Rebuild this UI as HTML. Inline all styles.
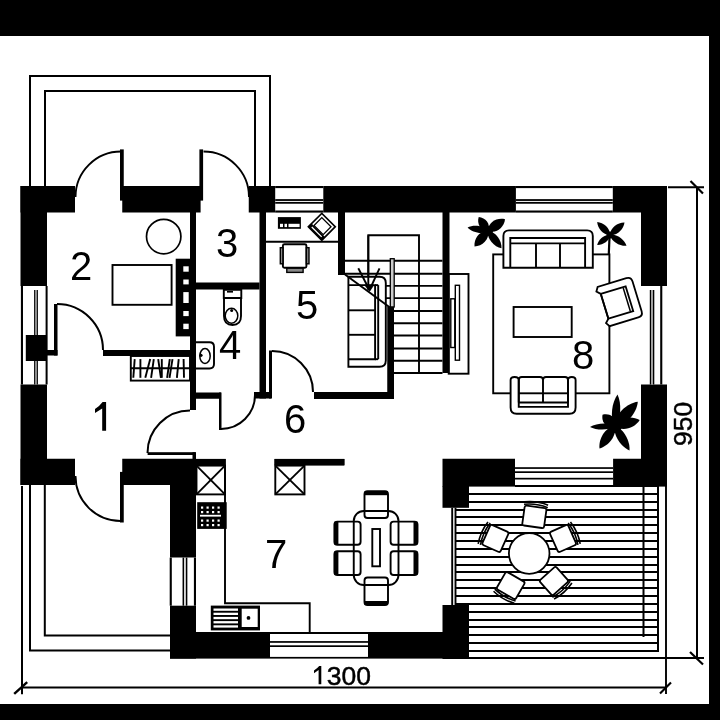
<!DOCTYPE html>
<html><head><meta charset="utf-8"><style>
html,body{margin:0;padding:0;background:#fff;}
svg{display:block;will-change:transform;}
text{font-family:"Liberation Sans",sans-serif;fill:#000;}
</style></head><body>
<svg width="720" height="720" viewBox="0 0 720 720">
<rect x="0" y="0" width="720" height="720" fill="#fff"/>
<rect x="0" y="0" width="720" height="36" fill="#000"/>
<rect x="709" y="0" width="11" height="720" fill="#000"/>
<rect x="0" y="704" width="720" height="16" fill="#000"/>
<path d="M30,186 V76 H270 V186" fill="none" stroke="#000" stroke-width="2"/>
<path d="M45,186 V91 H255 V186" fill="none" stroke="#000" stroke-width="2"/>
<path d="M30,485 V650.5 H170" fill="none" stroke="#000" stroke-width="2"/>
<path d="M44.8,485 V635.5 H170" fill="none" stroke="#000" stroke-width="2"/>
<line x1="22" y1="486" x2="22" y2="694.3" stroke="#000" stroke-width="2"/>
<line x1="22" y1="687.5" x2="666" y2="687.5" stroke="#000" stroke-width="2"/>
<line x1="666" y1="486" x2="666" y2="694" stroke="#000" stroke-width="1.9"/>
<line x1="14.2" y1="693.8" x2="27.2" y2="682.1" stroke="#000" stroke-width="2.4"/>
<line x1="660" y1="693.5" x2="671" y2="682.5" stroke="#000" stroke-width="2.2"/>
<line x1="668" y1="187.2" x2="704" y2="187.2" stroke="#000" stroke-width="1.9"/>
<line x1="469" y1="658" x2="704" y2="658" stroke="#000" stroke-width="1.9"/>
<line x1="697" y1="187" x2="697" y2="658" stroke="#000" stroke-width="2"/>
<line x1="690.5" y1="181" x2="703" y2="193.5" stroke="#000" stroke-width="2.2"/>
<line x1="690" y1="652" x2="703" y2="664.5" stroke="#000" stroke-width="2.2"/>
<rect x="20.5" y="186" width="26.5" height="100" fill="#000"/>
<rect x="20.5" y="384.5" width="26.5" height="100.5" fill="#000"/>
<rect x="20.9" y="286" width="2.1" height="98.5" fill="#000"/>
<rect x="45.6" y="286" width="2.0" height="98.5" fill="#000"/>
<rect x="34.1" y="290" width="1.4" height="94.5" fill="#000"/>
<rect x="36.5" y="290" width="1.4" height="94.5" fill="#000"/>
<rect x="35.5" y="290" width="1.0" height="94.5" fill="#999"/>
<rect x="25.8" y="335" width="21.2" height="26" fill="#000"/>
<rect x="20.5" y="186" width="54.5" height="26.5" fill="#000"/>
<rect x="122.25" y="186" width="78.35" height="26.5" fill="#000"/>
<rect x="248.75" y="186" width="26.45" height="26.5" fill="#000"/>
<rect x="323.3" y="186" width="192.6" height="26.5" fill="#000"/>
<rect x="612.8" y="186" width="54.2" height="26.5" fill="#000"/>
<rect x="641" y="186" width="26" height="100" fill="#000"/>
<rect x="641" y="384.5" width="26" height="101.5" fill="#000"/>
<rect x="649.8" y="290" width="1.4" height="94.5" fill="#000"/>
<rect x="652.9" y="290" width="1.4" height="94.5" fill="#000"/>
<rect x="651.2" y="290" width="1.7" height="94.5" fill="#999"/>
<rect x="660.2" y="286" width="2.1" height="98.5" fill="#000"/>
<rect x="442.5" y="458.75" width="72.5" height="27.85" fill="#000"/>
<rect x="442.5" y="486" width="26.5" height="21.8" fill="#000"/>
<rect x="613.1" y="458.75" width="53.9" height="27.85" fill="#000"/>
<rect x="442.5" y="605" width="26.5" height="54" fill="#000"/>
<rect x="368" y="632" width="101" height="26.6" fill="#000"/>
<rect x="170" y="632" width="100" height="26.6" fill="#000"/>
<rect x="170" y="605.7" width="26" height="52.9" fill="#000"/>
<rect x="170" y="459" width="26" height="98.5" fill="#000"/>
<rect x="122.25" y="458.75" width="73.75" height="26.25" fill="#000"/>
<rect x="20.5" y="458.75" width="54.5" height="26.25" fill="#000"/>
<rect x="275.2" y="186" width="48.1" height="2.1" fill="#000"/>
<rect x="275.2" y="210.5" width="48.1" height="2.1" fill="#000"/>
<rect x="275.2" y="199.128" width="48.1" height="1.8" fill="#000"/>
<rect x="275.2" y="201.928" width="48.1" height="1.8" fill="#000"/>
<rect x="515.9" y="186" width="96.9" height="2.1" fill="#000"/>
<rect x="515.9" y="210.5" width="96.9" height="2.1" fill="#000"/>
<rect x="515.9" y="199.128" width="96.9" height="1.8" fill="#000"/>
<rect x="515.9" y="201.928" width="96.9" height="1.8" fill="#000"/>
<rect x="515" y="467.2" width="98.1" height="1.7" fill="#000"/>
<rect x="515" y="471.3" width="98.1" height="1.7" fill="#000"/>
<rect x="515" y="477.8" width="98.1" height="1.7" fill="#000"/>
<rect x="270" y="632" width="98" height="2" fill="#000"/>
<rect x="270" y="641.1" width="98" height="1.7" fill="#000"/>
<rect x="270" y="645.3" width="98" height="1.7" fill="#000"/>
<rect x="270" y="656.9" width="98" height="1.7" fill="#000"/>
<rect x="169.7" y="557.6" width="2.1" height="48.1" fill="#000"/>
<rect x="193.9" y="557.6" width="2.1" height="48.1" fill="#000"/>
<rect x="182.554" y="557.6" width="1.6" height="48.1" fill="#000"/>
<rect x="185.75400000000002" y="557.6" width="1.6" height="48.1" fill="#000"/>
<rect x="190" y="212" width="6" height="198" fill="#000"/>
<rect x="103" y="350" width="87" height="6" fill="#000"/>
<rect x="47" y="350" width="10.5" height="5.5" fill="#000"/>
<rect x="54" y="304" width="3.5" height="51.5" fill="#000"/>
<rect x="196" y="282.5" width="63.5" height="7.0" fill="#000"/>
<rect x="259.5" y="212" width="6.5" height="186.5" fill="#000"/>
<rect x="196" y="392.5" width="25" height="6.25" fill="#000"/>
<rect x="254" y="392" width="17" height="6.5" fill="#000"/>
<rect x="269" y="350.5" width="3" height="48.0" fill="#000"/>
<rect x="314" y="392" width="80" height="7" fill="#000"/>
<rect x="387.5" y="307" width="6.5" height="92" fill="#000"/>
<rect x="338" y="212" width="7" height="63" fill="#000"/>
<rect x="442.5" y="212" width="7.0" height="161" fill="#000"/>
<rect x="196" y="459" width="29.5" height="6" fill="#000"/>
<rect x="274.5" y="459" width="69.9" height="6" fill="#000"/>
<rect x="147.6" y="452.2" width="47.9" height="2.8" fill="#000"/>
<rect x="192.5" y="452.2" width="3.5" height="6.8" fill="#000"/>
<rect x="219" y="392.5" width="2.5" height="37.5" fill="#000"/>
<rect x="120" y="149.4" width="3.75" height="51.2" fill="#000"/>
<rect x="199.4" y="149.4" width="3.7" height="51.2" fill="#000"/>
<rect x="120" y="471.9" width="3.75" height="50.6" fill="#000"/>
<path d="M75.50,197.00 A45.5,45.5 0 0 1 121.00,151.50" fill="none" stroke="#000" stroke-width="1.9"/>
<path d="M203.50,151.50 A45.5,45.5 0 0 1 249.00,197.00" fill="none" stroke="#000" stroke-width="1.9"/>
<path d="M57.00,304.00 A46,46 0 0 1 103.00,350.00" fill="none" stroke="#000" stroke-width="2.0"/>
<path d="M120.50,521.00 A45,45 0 0 1 75.50,476.00" fill="none" stroke="#000" stroke-width="1.9"/>
<path d="M147.50,453.00 A42.5,42.5 0 0 1 190.00,410.50" fill="none" stroke="#000" stroke-width="2.0"/>
<path d="M255.00,395.00 A34,34 0 0 1 221.00,429.00" fill="none" stroke="#000" stroke-width="2.0"/>
<path d="M272.00,351.00 A41,41 0 0 1 313.00,392.00" fill="none" stroke="#000" stroke-width="2.0"/>
<circle cx="163.7" cy="236.6" r="17.2" fill="none" stroke="#000" stroke-width="1.7"/>
<rect x="112.5" y="265" width="59.1" height="39.8" fill="none" stroke="#000" stroke-width="1.9" rx="0"/>
<rect x="175.7" y="258.7" width="20.3" height="77.7" fill="#000"/>
<rect x="183.3" y="266.3" width="5.4" height="5.4" fill="#fff"/>
<rect x="183.3" y="279.5" width="5.4" height="4.9" fill="#fff"/>
<rect x="183.3" y="292.1" width="5.4" height="10.9" fill="#fff"/>
<rect x="183.3" y="311" width="5.4" height="5.1" fill="#fff"/>
<rect x="183.3" y="323.7" width="5.4" height="5.4" fill="#fff"/>
<rect x="130.8" y="356" width="59.2" height="24.6" fill="none" stroke="#000" stroke-width="1.9" rx="0"/>
<line x1="130.8" y1="368.3" x2="190" y2="368.3" stroke="#000" stroke-width="1.9"/>
<line x1="134.7" y1="359.1" x2="133.3" y2="377.8" stroke="#000" stroke-width="1.9"/>
<line x1="140.4" y1="359.1" x2="140.4" y2="377.8" stroke="#000" stroke-width="1.9"/>
<line x1="150.2" y1="359.1" x2="145.3" y2="377.8" stroke="#000" stroke-width="1.9"/>
<line x1="153.8" y1="359.1" x2="151.1" y2="377.8" stroke="#000" stroke-width="1.9"/>
<line x1="158.2" y1="359.1" x2="160.9" y2="377.8" stroke="#000" stroke-width="1.9"/>
<line x1="161.8" y1="359.1" x2="161.8" y2="377.8" stroke="#000" stroke-width="1.9"/>
<line x1="169.8" y1="359.1" x2="167.1" y2="377.8" stroke="#000" stroke-width="1.9"/>
<line x1="172.5" y1="359.1" x2="169.5" y2="377.8" stroke="#000" stroke-width="1.9"/>
<line x1="178.7" y1="359.1" x2="176.9" y2="377.8" stroke="#000" stroke-width="1.9"/>
<line x1="183.6" y1="359.1" x2="184" y2="377.8" stroke="#000" stroke-width="1.9"/>
<path d="M223.8,289.8 H241.3 V298 H223.8 Z" fill="none" stroke="#000" stroke-width="1.9"/>
<rect x="227" y="291" width="6" height="1.6" fill="#000"/>
<path d="M224,298 V316 Q224,325 232.5,325 Q241,325 241,316 V298" fill="none" stroke="#000" stroke-width="1.9"/>
<ellipse cx="231.5" cy="315.8" rx="6.3" ry="7.5" fill="none" stroke="#000" stroke-width="1.5"/>
<circle cx="231.7" cy="310.5" r="1.5" fill="#000"/>
<path d="M196,342.3 H209.5 Q214,342.3 214,346.8 V364 Q214,368.5 209.5,368.5 H196" fill="none" stroke="#000" stroke-width="1.9"/>
<ellipse cx="205" cy="356" rx="5.2" ry="7.4" fill="none" stroke="#000" stroke-width="1.5"/>
<circle cx="201" cy="355.3" r="1.6" fill="#000"/>
<line x1="266" y1="241.8" x2="338.2" y2="241.8" stroke="#000" stroke-width="1.9"/>
<rect x="277.9" y="217.1" width="23.0" height="11.7" fill="#000"/>
<rect x="280" y="223.8" width="3" height="3.3" fill="#fff"/>
<rect x="284.5" y="223.8" width="2.5" height="3.3" fill="#fff"/>
<rect x="288.5" y="223.8" width="11.1" height="3.3" fill="#fff"/>
<g transform="translate(321.8,226.8) rotate(45)"><rect x="-9.5" y="-9.5" width="19" height="19" fill="#fff" stroke="#000" stroke-width="1.7"/><rect x="-9.5" y="5" width="19" height="4.5" fill="#000"/><rect x="-6.5" y="-6.5" width="13" height="11" fill="none" stroke="#000" stroke-width="1.3"/><line x1="-7" y1="7.2" x2="7" y2="7.2" stroke="#fff" stroke-width="1.3"/></g>
<rect x="282.9" y="244.3" width="23.5" height="23.4" fill="none" stroke="#000" stroke-width="1.9" rx="1.5"/>
<rect x="280.3" y="247.7" width="2.6" height="16.1" fill="#888" stroke="#000" stroke-width="1.4" rx="0"/>
<rect x="306.4" y="247.7" width="2.6" height="16.1" fill="#888" stroke="#000" stroke-width="1.4" rx="0"/>
<rect x="286.8" y="268.2" width="16.3" height="4.2" fill="#888" stroke="#000" stroke-width="1.4" rx="0"/>
<path d="M368.3,289 V235.3 H419 V373" fill="none" stroke="#000" stroke-width="1.9"/>
<line x1="345" y1="260.8" x2="442.5" y2="260.8" stroke="#000" stroke-width="1.9"/>
<line x1="345" y1="273.8" x2="442.5" y2="273.8" stroke="#000" stroke-width="1.9"/>
<line x1="375" y1="285.9" x2="442.5" y2="285.9" stroke="#000" stroke-width="1.9"/>
<line x1="375" y1="298.1" x2="442.5" y2="298.1" stroke="#000" stroke-width="1.9"/>
<line x1="394" y1="311" x2="442.5" y2="311" stroke="#000" stroke-width="1.9"/>
<line x1="394" y1="323.3" x2="442.5" y2="323.3" stroke="#000" stroke-width="1.9"/>
<line x1="394" y1="335.5" x2="442.5" y2="335.5" stroke="#000" stroke-width="1.9"/>
<line x1="394" y1="348.5" x2="442.5" y2="348.5" stroke="#000" stroke-width="1.9"/>
<line x1="394" y1="360.7" x2="442.5" y2="360.7" stroke="#000" stroke-width="1.9"/>
<line x1="394" y1="373" x2="442.5" y2="373" stroke="#000" stroke-width="1.9"/>
<rect x="390.3" y="258.7" width="3.9" height="48.3" fill="#ccc" stroke="#000" stroke-width="1.3" rx="0"/>
<rect x="387.5" y="306.7" width="6.5" height="92.3" fill="#000"/>
<path d="M348.4,276.7 H379.5 Q385.8,276.7 385.8,283 V360.5 Q385.8,366.8 379.5,366.8 H348.4 Z" fill="#fff" stroke="#000" stroke-width="1.9"/>
<path d="M348.4,285.1 H375.1 V359.2 H348.4" fill="none" stroke="#000" stroke-width="1.9"/>
<line x1="378.2" y1="285.1" x2="378.2" y2="359.2" stroke="#000" stroke-width="1.9"/>
<line x1="375.1" y1="285.1" x2="378.2" y2="285.1" stroke="#000" stroke-width="1.9"/>
<line x1="375.1" y1="359.2" x2="378.2" y2="359.2" stroke="#000" stroke-width="1.9"/>
<line x1="348.4" y1="310.3" x2="375.1" y2="310.3" stroke="#000" stroke-width="1.9"/>
<line x1="348.4" y1="334.8" x2="375.1" y2="334.8" stroke="#000" stroke-width="1.9"/>
<line x1="345" y1="274.5" x2="392" y2="309" stroke="#000" stroke-width="1.9"/>
<line x1="358.3" y1="268.3" x2="369.5" y2="290" stroke="#000" stroke-width="1.9"/>
<line x1="379.5" y1="268.3" x2="369.5" y2="290" stroke="#000" stroke-width="1.9"/>
<line x1="368.3" y1="235.3" x2="368.3" y2="290" stroke="#000" stroke-width="1.9"/>
<path d="M364.5,285 L374,285 L369.5,291.5 Z" fill="#000" stroke="#000" stroke-width="0.5"/>
<rect x="448.7" y="274" width="19.8" height="99.7" fill="none" stroke="#000" stroke-width="1.9" rx="0"/>
<rect x="450.8" y="298.8" width="4.0" height="48.7" fill="none" stroke="#000" stroke-width="1.4" rx="0"/>
<rect x="455.3" y="285.3" width="4.2" height="74.9" fill="none" stroke="#000" stroke-width="1.4" rx="0"/>
<rect x="493.2" y="254.4" width="116.2" height="138.9" fill="none" stroke="#000" stroke-width="1.9" rx="0"/>
<rect x="513.6" y="307" width="58.1" height="30" fill="none" stroke="#000" stroke-width="1.9" rx="0"/>
<path d="M503.4,267.8 V236 Q503.4,230.4 509,230.4 H587.2 Q592.8,230.4 592.8,236 V267.8 Z" fill="#fff" stroke="#000" stroke-width="1.9"/>
<path d="M510.3,267.8 V238 H585.1 V267.8" fill="none" stroke="#000" stroke-width="1.9"/>
<line x1="510.3" y1="243.4" x2="585.1" y2="243.4" stroke="#000" stroke-width="1.9"/>
<line x1="536" y1="243.4" x2="536" y2="267.8" stroke="#000" stroke-width="1.9"/>
<line x1="560" y1="243.4" x2="560" y2="267.8" stroke="#000" stroke-width="1.9"/>
<path d="M510.6,380 Q510.6,377 514.6,377 Q518.75,377 518.75,380 V406.9 H568 V380 Q568,377 571.8,377 Q575.6,377 575.6,380 V407.5 Q575.6,413.75 569.5,413.75 H516.6 Q510.6,413.75 510.6,407.5 Z" fill="#fff" stroke="#000" stroke-width="1.9"/>
<path d="M518.75,402.5 V380 Q518.75,377 521.75,377 H540 Q543,377 543,380 V402.5 M543,380 Q543,377 546,377 H565 Q568,377 568,380 V402.5" fill="none" stroke="#000" stroke-width="1.9"/>
<line x1="518.75" y1="402.5" x2="568" y2="402.5" stroke="#000" stroke-width="1.9"/>
<g transform="translate(617,302.5) rotate(-17)"><path d="M-13,-13 L-16.5,-16.5 L-14,-20.5 H16 Q21,-20.5 21,-15.5 V15.5 Q21,20.5 16,20.5 H-14 L-16.5,16.5 L-13,13 Z" fill="#fff" stroke="#000" stroke-width="1.8"/><path d="M-13,-13 H13 V13 H-13 Z" fill="none" stroke="#000" stroke-width="1.8"/><line x1="10.2" y1="-12" x2="10.2" y2="12" stroke="#000" stroke-width="1.5"/></g>
<rect x="195.6" y="458.9" width="30.2" height="6.7" fill="#000"/>
<rect x="196.5" y="465.6" width="28.5" height="28.8" fill="none" stroke="#000" stroke-width="1.9" rx="0"/>
<line x1="196.5" y1="465.6" x2="225" y2="494.4" stroke="#000" stroke-width="1.9"/>
<line x1="225" y1="465.6" x2="196.5" y2="494.4" stroke="#000" stroke-width="1.9"/>
<path d="M225,465 V603.3 H309.7 V632.5" fill="none" stroke="#000" stroke-width="1.9"/>
<rect x="197.2" y="502.2" width="29.5" height="26.7" fill="#000"/>
<rect x="201" y="506.5" width="2.2" height="2.2" fill="#fff"/>
<rect x="206.5" y="506.5" width="2.2" height="2.2" fill="#fff"/>
<rect x="212" y="506.5" width="2.2" height="2.2" fill="#fff"/>
<rect x="217.5" y="506.5" width="2.2" height="2.2" fill="#fff"/>
<rect x="201" y="511" width="2.2" height="2.2" fill="#fff"/>
<rect x="206.5" y="511" width="2.2" height="2.2" fill="#fff"/>
<rect x="212" y="511" width="2.2" height="2.2" fill="#fff"/>
<rect x="217.5" y="511" width="2.2" height="2.2" fill="#fff"/>
<rect x="200" y="514.8" width="21" height="1.8" fill="#fff"/>
<rect x="201" y="519.5" width="2.2" height="2.2" fill="#fff"/>
<rect x="206.5" y="519.5" width="2.2" height="2.2" fill="#fff"/>
<rect x="212" y="519.5" width="2.2" height="2.2" fill="#fff"/>
<rect x="217.5" y="519.5" width="2.2" height="2.2" fill="#fff"/>
<rect x="201" y="524" width="2.2" height="2.2" fill="#fff"/>
<rect x="206.5" y="524" width="2.2" height="2.2" fill="#fff"/>
<rect x="212" y="524" width="2.2" height="2.2" fill="#fff"/>
<rect x="217.5" y="524" width="2.2" height="2.2" fill="#fff"/>
<rect x="274.5" y="458.9" width="69.9" height="6.7" fill="#000"/>
<rect x="275.3" y="465.6" width="29.2" height="28.8" fill="none" stroke="#000" stroke-width="1.9" rx="0"/>
<line x1="275.3" y1="465.6" x2="304.5" y2="494.4" stroke="#000" stroke-width="1.9"/>
<line x1="304.5" y1="465.6" x2="275.3" y2="494.4" stroke="#000" stroke-width="1.9"/>
<rect x="210.8" y="605.6" width="49.2" height="24.8" fill="#000"/>
<rect x="213.5" y="608.5" width="24.5" height="2.3" fill="#fff"/>
<rect x="213.5" y="612.7" width="24.5" height="2.3" fill="#fff"/>
<rect x="213.5" y="616.9" width="24.5" height="2.3" fill="#fff"/>
<rect x="213.5" y="621.1" width="24.5" height="2.3" fill="#fff"/>
<rect x="213.5" y="625.3" width="24.5" height="2.3" fill="#fff"/>
<rect x="241.7" y="608.7" width="16.0" height="18.3" fill="#fff"/>
<circle cx="248.5" cy="617.9" r="1.9" fill="#000"/>
<rect x="364.5" y="491.2" width="23.5" height="26.8" fill="none" stroke="#000" stroke-width="1.9" rx="3"/>
<rect x="364.5" y="491.2" width="23.5" height="4.0" fill="#000"/>
<rect x="364.5" y="577.5" width="23.5" height="27.5" fill="none" stroke="#000" stroke-width="1.9" rx="3"/>
<rect x="364.5" y="601" width="23.5" height="4" fill="#000"/>
<rect x="334.4" y="521.6" width="26.2" height="23.1" fill="none" stroke="#000" stroke-width="1.9" rx="3"/>
<rect x="334.4" y="521.6" width="4.0" height="23.1" fill="#000"/>
<rect x="334.4" y="551.3" width="26.2" height="23.7" fill="none" stroke="#000" stroke-width="1.9" rx="3"/>
<rect x="334.4" y="551.3" width="4.0" height="23.7" fill="#000"/>
<rect x="390.6" y="521.6" width="26.9" height="23.1" fill="none" stroke="#000" stroke-width="1.9" rx="3"/>
<rect x="413.5" y="521.6" width="4.0" height="23.1" fill="#000"/>
<rect x="390.6" y="551.3" width="26.9" height="23.7" fill="none" stroke="#000" stroke-width="1.9" rx="3"/>
<rect x="413.5" y="551.3" width="4.0" height="23.7" fill="#000"/>
<rect x="353.75" y="511" width="44.75" height="74" fill="none" stroke="#000" stroke-width="1.9" rx="10"/>
<rect x="372.3" y="529" width="7.7" height="37.3" fill="none" stroke="#000" stroke-width="1.9" rx="0"/>
<rect x="515" y="485" width="143" height="2" fill="#000"/>
<rect x="469" y="493" width="189" height="2" fill="#000"/>
<rect x="469" y="501" width="189" height="2" fill="#000"/>
<rect x="456" y="509" width="202" height="2" fill="#000"/>
<rect x="456" y="516" width="202" height="2" fill="#000"/>
<rect x="456" y="524" width="202" height="2" fill="#000"/>
<rect x="456" y="532" width="202" height="2" fill="#000"/>
<rect x="456" y="540" width="202" height="2" fill="#000"/>
<rect x="456" y="548" width="202" height="2" fill="#000"/>
<rect x="456" y="556" width="202" height="2" fill="#000"/>
<rect x="456" y="564" width="202" height="2" fill="#000"/>
<rect x="456" y="571" width="202" height="2" fill="#000"/>
<rect x="456" y="579" width="202" height="2" fill="#000"/>
<rect x="456" y="587" width="202" height="2" fill="#000"/>
<rect x="456" y="595" width="202" height="2" fill="#000"/>
<rect x="456" y="603" width="202" height="2" fill="#000"/>
<rect x="469" y="611" width="189" height="2" fill="#000"/>
<rect x="469" y="619" width="189" height="2" fill="#000"/>
<rect x="469" y="626" width="189" height="2" fill="#000"/>
<rect x="469" y="634" width="189" height="2" fill="#000"/>
<rect x="469" y="642" width="189" height="2" fill="#000"/>
<rect x="469" y="650" width="189" height="2" fill="#000"/>
<rect x="657" y="486" width="2" height="166" fill="#000"/>
<rect x="642.5" y="486" width="2.0" height="151" fill="#000"/>
<line x1="452.2" y1="507.8" x2="452.2" y2="605" stroke="#000" stroke-width="1.9"/>
<line x1="455.5" y1="507.8" x2="455.5" y2="605" stroke="#000" stroke-width="1.9"/>
<circle cx="529.2" cy="553.5" r="20.3" fill="#fff" stroke="#000" stroke-width="1.8"/>
<g transform="translate(534.35,516.86) rotate(8)"><rect x="-11" y="-10" width="22" height="20" rx="2" fill="#fff" stroke="#000" stroke-width="1.8"/><path d="M-12,-11 Q0,-14 12,-11" fill="none" stroke="#000" stroke-width="1.6"/><path d="M-12,-13.5 Q0,-16.5 12,-13.5" fill="none" stroke="#000" stroke-width="1.6"/></g>
<g transform="translate(563.00,538.45) rotate(66)"><rect x="-11" y="-10" width="22" height="20" rx="2" fill="#fff" stroke="#000" stroke-width="1.8"/><path d="M-12,-11 Q0,-14 12,-11" fill="none" stroke="#000" stroke-width="1.6"/><path d="M-12,-13.5 Q0,-16.5 12,-13.5" fill="none" stroke="#000" stroke-width="1.6"/></g>
<g transform="translate(553.96,581.00) rotate(138)"><rect x="-11" y="-10" width="22" height="20" rx="2" fill="#fff" stroke="#000" stroke-width="1.8"/><path d="M-12,-11 Q0,-14 12,-11" fill="none" stroke="#000" stroke-width="1.6"/><path d="M-12,-13.5 Q0,-16.5 12,-13.5" fill="none" stroke="#000" stroke-width="1.6"/></g>
<g transform="translate(510.70,585.54) rotate(210)"><rect x="-11" y="-10" width="22" height="20" rx="2" fill="#fff" stroke="#000" stroke-width="1.8"/><path d="M-12,-11 Q0,-14 12,-11" fill="none" stroke="#000" stroke-width="1.6"/><path d="M-12,-13.5 Q0,-16.5 12,-13.5" fill="none" stroke="#000" stroke-width="1.6"/></g>
<g transform="translate(495.40,538.45) rotate(294)"><rect x="-11" y="-10" width="22" height="20" rx="2" fill="#fff" stroke="#000" stroke-width="1.8"/><path d="M-12,-11 Q0,-14 12,-11" fill="none" stroke="#000" stroke-width="1.6"/><path d="M-12,-13.5 Q0,-16.5 12,-13.5" fill="none" stroke="#000" stroke-width="1.6"/></g>
<path d="M488.0,231.0 C483.8,225.2 473.4,224.4 467.6,227.4 C472.0,232.2 482.0,235.0 488.0,231.0 Z" fill="#000"/>
<path d="M488.0,231.0 C491.1,223.9 485.4,217.6 478.7,217.0 C476.7,223.4 480.3,231.1 488.0,231.0 Z" fill="#000"/>
<path d="M488.0,231.0 C496.5,234.2 504.2,227.1 505.0,219.2 C497.3,217.2 488.0,221.9 488.0,231.0 Z" fill="#000"/>
<path d="M488.0,231.0 C479.3,230.3 473.7,238.9 474.5,246.5 C482.1,246.3 489.9,239.5 488.0,231.0 Z" fill="#000"/>
<path d="M488.0,231.0 C486.6,239.0 494.3,246.9 501.5,248.3 C501.9,241.0 496.1,231.6 488.0,231.0 Z" fill="#000"/>
<circle cx="488" cy="231" r="5" fill="#000"/>
<path d="M610.0,235.0 C610.4,228.2 603.3,222.4 597.2,222.0 C597.5,228.1 603.2,235.3 610.0,235.0 Z" fill="#000"/>
<path d="M610.0,235.0 C617.2,236.0 623.7,229.0 624.5,222.5 C618.0,222.3 610.0,227.7 610.0,235.0 Z" fill="#000"/>
<path d="M610.0,235.0 C604.0,234.0 598.2,239.7 597.2,245.0 C602.6,245.3 609.6,241.0 610.0,235.0 Z" fill="#000"/>
<path d="M610.0,235.0 C611.4,241.9 620.2,246.4 626.5,245.8 C624.6,239.8 616.9,233.5 610.0,235.0 Z" fill="#000"/>
<circle cx="610" cy="235" r="3.5" fill="#000"/>
<line x1="609.6" y1="235" x2="608.8" y2="254" stroke="#000" stroke-width="2.2"/>
<path d="M614.8,426.1 C621.5,418.7 621.6,402.8 617.5,394.5 C612.0,402.0 609.5,417.7 614.8,426.1 Z" fill="#000"/>
<path d="M614.8,426.1 C626.7,425.9 637.0,412.5 637.8,401.8 C627.1,403.2 614.4,414.2 614.8,426.1 Z" fill="#000"/>
<path d="M614.8,426.1 C622.9,432.3 635.0,427.7 639.7,420.0 C632.0,415.3 619.1,416.8 614.8,426.1 Z" fill="#000"/>
<path d="M614.8,426.1 C617.1,417.4 609.9,412.9 602.5,414.8 C601.2,422.3 606.3,429.2 614.8,426.1 Z" fill="#000"/>
<path d="M614.8,426.1 C608.4,421.8 596.1,423.2 590.0,427.0 C596.3,430.4 608.8,430.8 614.8,426.1 Z" fill="#000"/>
<path d="M614.8,426.1 C604.8,427.5 598.4,439.5 599.5,448.5 C608.3,446.3 617.2,435.9 614.8,426.1 Z" fill="#000"/>
<path d="M614.8,426.1 C612.9,435.6 621.4,447.1 629.5,450.5 C630.3,441.7 624.0,428.8 614.8,426.1 Z" fill="#000"/>
<circle cx="614.8" cy="426.1" r="7" fill="#000"/>
<path d="M102.2,430.8 V408.6 L95,413 V409 Q100,405.5 102.6,401.9 H106.1 V430.8 Z" fill="#000" stroke="#000" stroke-width="0.01"/>
<path d="M318.6,684.3 V670 L314,673.3 V670.4 Q317.5,668.2 319.2,666 H321.3 V684.3 Z" fill="#000" stroke="#000" stroke-width="0.01"/>
<text x="70" y="280" font-size="40">2</text>
<text x="216" y="257" font-size="40">3</text>
<text x="219" y="358.5" font-size="40">4</text>
<text x="296" y="319" font-size="40">5</text>
<text x="284" y="433.3" font-size="40">6</text>
<text x="265" y="568" font-size="40">7</text>
<text x="572" y="369.3" font-size="40">8</text>
<text x="326.7" y="685" font-size="26.5" stroke="#000" stroke-width="0.45">300</text>
<text x="0" y="0" font-size="26.5" stroke="#000" stroke-width="0.45" transform="translate(692,446) rotate(-90)">950</text>
</svg>
</body></html>
